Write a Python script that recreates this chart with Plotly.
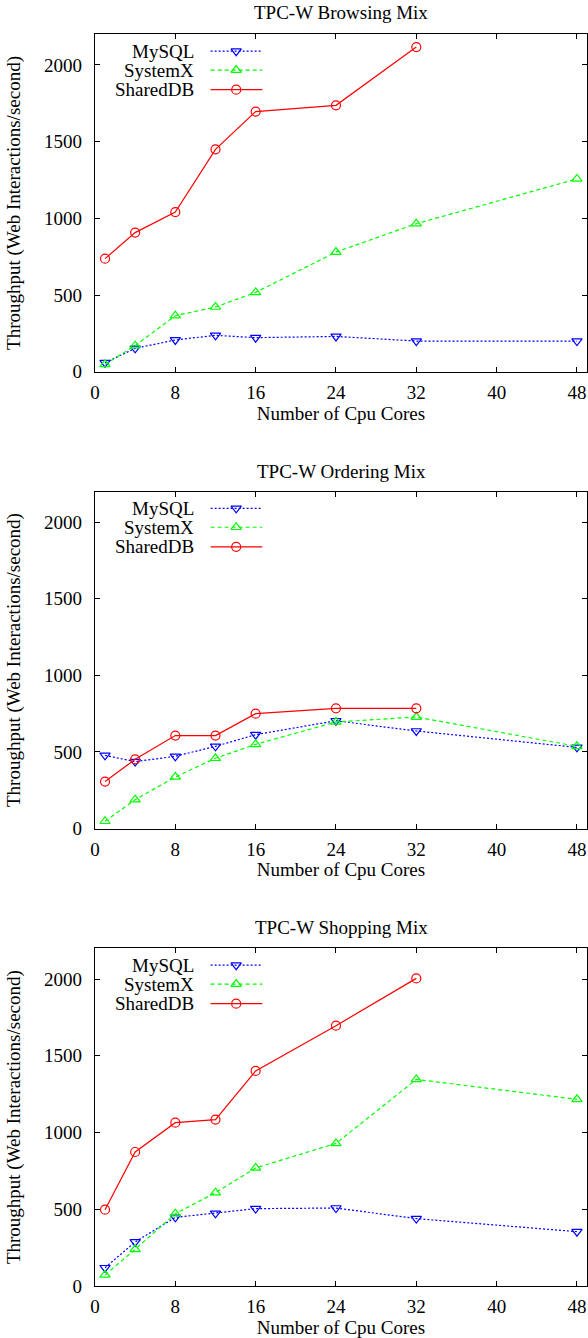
import plotly.graph_objects as go

# ---- data ----
cores = [1, 4, 8, 12, 16, 24, 32, 48]
cores_shared = [1, 4, 8, 12, 16, 24, 32]

browsing_mysql = [59, 152, 207, 237, 222, 230, 200, 200]
browsing_systemx = [48, 170, 365, 422, 517, 780, 965, 1257]
browsing_shareddb = [737, 907, 1041, 1450, 1696, 1737, 2117]

ordering_mysql = [478, 437, 472, 537, 613, 704, 637, 530]
ordering_systemx = [48, 189, 337, 459, 550, 696, 728, 537]
ordering_shareddb = [307, 452, 607, 607, 750, 785, 785]

shopping_mysql = [119, 287, 447, 473, 504, 508, 439, 354]
shopping_systemx = [72, 239, 471, 608, 769, 929, 1346, 1216]
shopping_shareddb = [497, 873, 1064, 1084, 1401, 1696, 2004]

panel_titles = ["TPC-W Browsing Mix", "TPC-W Ordering Mix", "TPC-W Shopping Mix"]
series_names = ["MySQL", "SystemX", "SharedDB"]
x_ticks = [0, 8, 16, 24, 32, 40, 48]
y_ticks = [0, 500, 1000, 1500, 2000]
x_title = "Number of Cpu Cores"
y_title = "Throughput (Web Interactions/second)"

panels = [
    (browsing_mysql, browsing_systemx, browsing_shareddb),
    (ordering_mysql, ordering_systemx, ordering_shareddb),
    (shopping_mysql, shopping_systemx, shopping_shareddb),
]

# ---- styles ----
W, H = 588, 1338
FONT = "Liberation Serif"
FS = 19
TFS = 19
colors = ["#0000ff", "#00ff00", "#ff0000"]
dashes = ["2px,2px", "4px,3px", "solid"]
symbols = ["triangle-down-open", "triangle-up-open", "circle-open"]
MSIZE = 9
LW = 1.2
# panel pixel extents in the reference (top, bottom)
panel_px = [(34.3, 371.7), (491.5, 828.6), (948.3, 1286.0)]
title_px = [13, 472, 928]

fig = go.Figure()
layout = dict(
    width=W, height=H,
    margin=dict(l=95, r=1, t=0, b=0),
    paper_bgcolor="white", plot_bgcolor="white",
    showlegend=False,
    font=dict(family=FONT, size=FS, color="black"),
)
annotations = []

leg_rows = [0.950, 0.894, 0.836]
leg_text_x = 0.205
leg_line = (0.235, 0.340)
leg_marker_x = 0.287

for i, (vals, ttl, (ptop, pbot)) in enumerate(zip(panels, panel_titles, panel_px)):
    n = i + 1
    xa = "x" if n == 1 else f"x{n}"
    ya = "y" if n == 1 else f"y{n}"
    xl = "xaxis" if n == 1 else f"xaxis{n}"
    yl = "yaxis" if n == 1 else f"yaxis{n}"
    dom = [(H - pbot) / H, (H - ptop) / H]
    axis_common = dict(
        showline=True, linecolor="black", linewidth=1.2, mirror="ticks",
        ticks="inside", ticklen=5, tickwidth=1, tickcolor="black",
        showgrid=False, zeroline=False, automargin=False,
        tickfont=dict(family=FONT, size=TFS, color="black"),
    )
    layout[xl] = dict(axis_common, domain=[0, 1], range=[0, 49], tickvals=x_ticks,
                      anchor=ya, ticklabelstandoff=3,
                      title=dict(text=x_title, standoff=3,
                                 font=dict(family=FONT, size=FS, color="black")))
    layout[yl] = dict(axis_common, domain=dom, range=[0, 2200], tickvals=y_ticks,
                      anchor=xa, ticklabelstandoff=8,
                      title=dict(text=y_title, standoff=18,
                                 font=dict(family=FONT, size=FS, color="black")))
    xs_list = [cores, cores, cores_shared]
    for j in range(3):
        fig.add_trace(go.Scatter(
            x=xs_list[j], y=vals[j], mode="lines+markers", name=series_names[j],
            xaxis=xa, yaxis=ya, cliponaxis=False,
            line=dict(color=colors[j], dash=dashes[j], width=LW),
            marker=dict(symbol=symbols[j], size=MSIZE, color=colors[j],
                        line=dict(width=LW, color=colors[j])),
        ))
    # overlay axes for the legend samples
    on = n + 3
    oxa, oya = f"x{on}", f"y{on}"
    layout[f"xaxis{on}"] = dict(overlaying=xa, range=[0, 1], visible=False, anchor=oya)
    layout[f"yaxis{on}"] = dict(overlaying=ya, range=[0, 1], visible=False, anchor=oxa)
    for j in range(3):
        fig.add_trace(go.Scatter(
            x=list(leg_line), y=[leg_rows[j]] * 2, mode="lines",
            xaxis=oxa, yaxis=oya, hoverinfo="skip",
            line=dict(color=colors[j], dash=dashes[j], width=LW),
        ))
        fig.add_trace(go.Scatter(
            x=[leg_marker_x], y=[leg_rows[j]], mode="markers",
            xaxis=oxa, yaxis=oya, hoverinfo="skip",
            marker=dict(symbol=symbols[j], size=MSIZE, color=colors[j],
                        line=dict(width=LW, color=colors[j])),
        ))
        annotations.append(dict(
            text=series_names[j], xref=f"{xa} domain", yref=f"{ya} domain",
            x=leg_text_x, y=leg_rows[j], xanchor="right", yanchor="middle",
            showarrow=False, font=dict(family=FONT, size=FS, color="black"),
        ))
    annotations.append(dict(
        text=ttl, xref=f"{xa} domain", yref="paper",
        x=0.5, y=(H - title_px[i]) / H, xanchor="center", yanchor="middle",
        showarrow=False, font=dict(family=FONT, size=FS, color="black"),
    ))

layout["annotations"] = annotations
fig.update_layout(**layout)
fig.write_html(
    "out.html",
    config={"displayModeBar": False},
    post_script="document.body.style.margin='0px';document.body.style.overflow='hidden';",
)
